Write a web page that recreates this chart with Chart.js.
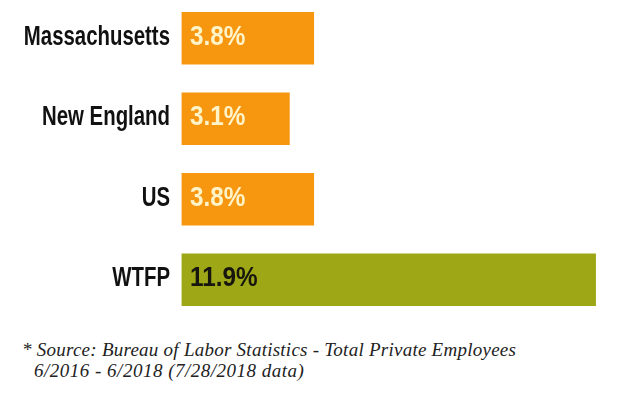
<!DOCTYPE html>
<html>
<head>
<meta charset="utf-8">
<script src="https://cdn.jsdelivr.net/npm/chart.js@4"></script>
<style>
  html, body { margin: 0; padding: 0; background: #ffffff; width: 628px; height: 402px; overflow: hidden; }
  #wrap { position: absolute; left: 0; top: -2px; width: 628px; height: 322px; }
  .note { position: absolute; font-family: "Liberation Serif", "DejaVu Serif", serif; font-style: italic; font-size: 19px; letter-spacing: 0.25px; color: #222; white-space: nowrap; }
</style>
</head>
<body>
<div id="wrap"><canvas id="c"></canvas></div>
<div class="note" id="n1" style="left:22px; top:339px;">* Source: Bureau of Labor Statistics - Total Private Employees</div>
<div class="note" id="n2" style="left:34px; top:360px; letter-spacing: 0.5px;">6/2016 - 6/2018 (7/28/2018 data)</div>
<script>
const categories = ["Massachusetts", "New England", "US", "WTFP"];
const growthPct = [3.8, 3.1, 3.8, 11.9];
const valueLabels = ["3.8%", "3.1%", "3.8%", "11.9%"];

const barColors = ["#F7960F", "#F7960F", "#F7960F", "#9EA817"];
const labelColors = ["#FFF3C8", "#FFF3C8", "#FFF3C8", "#16160E"];
const sansBold = '"Liberation Sans", Arial, sans-serif';

const valueLabelPlugin = {
  id: 'valueLabels',
  afterDatasetsDraw(chart) {
    const ctx = chart.ctx;
    const meta = chart.getDatasetMeta(0);
    ctx.save();
    ctx.font = 'bold 27px ' + sansBold;
    ctx.textAlign = 'left';
    ctx.textBaseline = 'middle';
    meta.data.forEach((bar, i) => {
      const x0 = bar.base + 8.5;
      ctx.save();
      ctx.translate(x0, 0);
      ctx.scale(0.9, 1);
      ctx.fillStyle = labelColors[i];
      ctx.fillText(valueLabels[i], 0, bar.y - 1);
      ctx.restore();
    });
    ctx.restore();
  }
};

new Chart(document.getElementById('c'), {
  type: 'bar',
  data: {
    labels: categories,
    datasets: [{
      data: growthPct,
      backgroundColor: barColors,
      borderWidth: 0,
      barThickness: 52
    }]
  },
  options: {
    indexAxis: 'y',
    responsive: true,
    maintainAspectRatio: false,
    animation: false,
    layout: { padding: { left: 0, right: 11.5, top: 0, bottom: 0 } },
    plugins: { legend: { display: false }, tooltip: { enabled: false } },
    scales: {
      x: { display: false, min: 0, max: 12.5 },
      y: {
        grid: { display: false, drawTicks: false },
        border: { display: false },
        ticks: {
          color: '#111111',
          padding: 11.5,
          font: { family: sansBold, size: 27, weight: 'bold' }
        },
        afterFit(axis) {
          axis.width = 181.5;
          axis.paddingTop = 0;
          axis.paddingBottom = 0;
          if (!axis._narrowPatched) {
            axis._narrowPatched = true;
            axis._computeLabelArea = function () { return undefined; };
            const orig = axis.drawLabels;
            axis.drawLabels = function (area) {
              const ctx = this.ctx;
              const xr = this.right - this.options.ticks.padding;
              ctx.save();
              ctx.translate(xr, -1);
              ctx.scale(0.755, 1);
              ctx.translate(-xr, 0);
              orig.call(this, area);
              ctx.restore();
            };
          }
        }
      }
    }
  },
  plugins: [valueLabelPlugin]
});
</script>
</body>
</html>
